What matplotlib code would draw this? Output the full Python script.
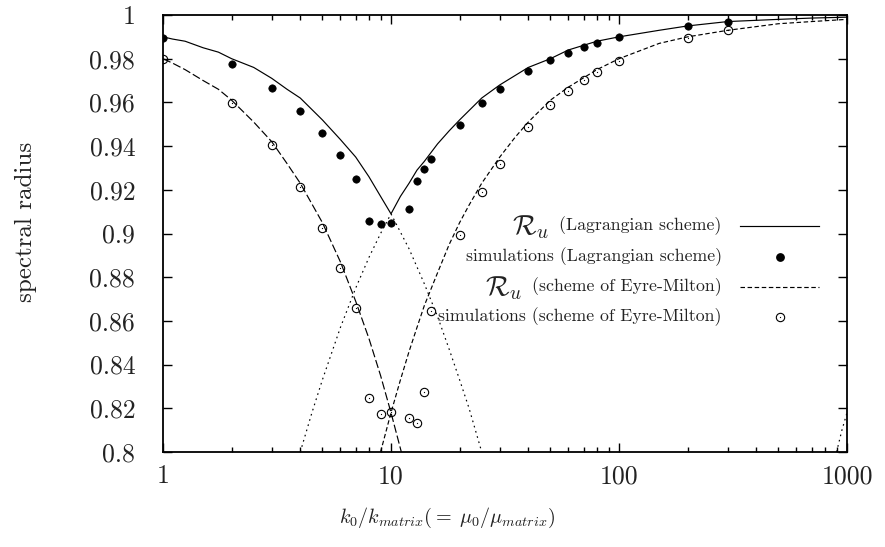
import matplotlib
matplotlib.use("Agg")
import matplotlib.pyplot as plt
from matplotlib.lines import Line2D
from matplotlib.ticker import FixedLocator, FixedFormatter, LogLocator, NullFormatter

plt.rcParams["font.family"] = "serif"
plt.rcParams["font.serif"] = ["cmr10", "DejaVu Serif"]
plt.rcParams["mathtext.fontset"] = "cm"
plt.rcParams["axes.formatter.use_mathtext"] = True

# ---- theoretical spectral radius, Lagrangian scheme (solid) ----
lag_k = [1, 1.1, 1.25, 1.5, 1.75, 2, 2.5, 3, 3.5, 4, 5, 6, 7, 8, 9, 10,
         11, 12, 13, 14, 16, 18, 20, 25, 30, 40, 50, 60, 80, 100, 150, 200, 300, 500, 700, 1000]
lag_r = [0.990, 0.989, 0.988, 0.985, 0.983, 0.980, 0.976, 0.971, 0.966, 0.962, 0.952, 0.943,
         0.935, 0.926, 0.917, 0.909,
         0.917, 0.923, 0.929, 0.933, 0.941, 0.947, 0.952, 0.962, 0.968, 0.976, 0.980, 0.984,
         0.988, 0.990, 0.993, 0.995, 0.997, 0.998, 0.9986, 0.999]

# branches of the Lagrangian bound below the envelope (dotted)
rise_k = [4, 4.5, 5, 6, 7, 8, 9, 10]
rise_r = [0.800, 0.818, 0.833, 0.857, 0.875, 0.889, 0.900, 0.909]
fall_k = [10, 12, 14, 16, 18, 20, 22, 25]
fall_r = [0.909, 0.893, 0.877, 0.862, 0.847, 0.833, 0.820, 0.800]
edge_k = [900, 950, 1000]
edge_r = [0.800, 0.810, 0.818]

# ---- theoretical spectral radius, scheme of Eyre-Milton (dashed) ----
em_left_k = [1, 1.1, 1.25, 1.5, 1.75, 2, 2.5, 3, 3.5, 4, 5, 6, 7, 8, 9, 10, 11.1]
em_left_r = [0.980, 0.978, 0.975, 0.970, 0.966, 0.961, 0.951, 0.942, 0.932, 0.923, 0.905, 0.887,
             0.869, 0.852, 0.835, 0.818, 0.800]
em_right_k = [9, 10, 11, 12, 13, 14, 16, 18, 20, 22, 25, 30, 35, 40, 50, 60, 80, 100,
              150, 200, 300, 500, 700, 1000]
em_right_r = [0.800, 0.818, 0.833, 0.846, 0.857, 0.867, 0.882, 0.895, 0.905, 0.913, 0.923, 0.935,
              0.944, 0.951, 0.961, 0.967, 0.975, 0.980, 0.987, 0.990, 0.993, 0.996, 0.997, 0.998]

# ---- simulations ----
sim_k = [1, 2, 3, 4, 5, 6, 7, 8, 9, 10, 12, 13, 14, 15, 20, 25, 30, 40, 50, 60, 70, 80, 100, 200, 300]
sim_lag = [0.9895, 0.9776, 0.9667, 0.9562, 0.9460, 0.9359, 0.9249, 0.9059, 0.9045, 0.9050,
           0.9112, 0.9239, 0.9294, 0.9340, 0.9497, 0.9596, 0.9660, 0.9744, 0.9793, 0.9828,
           0.9852, 0.9870, 0.9898, 0.9948, 0.9966]
sim_em = [0.9797, 0.9599, 0.9404, 0.9213, 0.9025, 0.8841, 0.8660, 0.8249, 0.8174, 0.8182,
          0.8154, 0.8131, 0.8273, 0.8645, 0.8993, 0.9188, 0.9318, 0.9486, 0.9587, 0.9654,
          0.9703, 0.9739, 0.9791, 0.9896, 0.9930]

y_ticks = [0.8, 0.82, 0.84, 0.86, 0.88, 0.9, 0.92, 0.94, 0.96, 0.98, 1.0]
y_tick_labels = ["0.8", "0.82", "0.84", "0.86", "0.88", "0.9", "0.92", "0.94", "0.96", "0.98", "1"]
x_ticks = [1, 10, 100, 1000]
x_tick_labels = ["1", "10", "100", "1000"]

legend_labels = ["(Lagrangian scheme)", "simulations (Lagrangian scheme)",
                 "(scheme of Eyre-Milton)", "simulations (scheme of Eyre-Milton)"]

fig = plt.figure(figsize=(8.85, 5.47), dpi=100)
ax = fig.add_axes([163 / 885, 95 / 547, 684 / 885, 437 / 547])

lw = 0.85
em_dash = (0, (3.8, 2.2))
ax.plot(lag_k, lag_r, color="black", lw=lw, solid_joinstyle="miter")
dotted = (0, (1.4, 3.2))
for kk, rr in ((rise_k, rise_r), (fall_k, fall_r), (edge_k, edge_r)):
    ax.plot(kk, rr, color="black", lw=lw, linestyle=dotted)
ax.plot(em_left_k, em_left_r, color="black", lw=lw, linestyle=(0, (7, 2.5)))
ax.plot(em_right_k, em_right_r, color="black", lw=lw, linestyle=em_dash)

ax.plot(sim_k, sim_lag, linestyle="none", marker="o", ms=5.3, mfc="black", mec="black", mew=0.5)
ax.plot(sim_k, sim_em, linestyle="none", marker="o", ms=6.0, mfc="none", mec="black", mew=0.8)
ax.plot(sim_k, sim_em, linestyle="none", marker="o", ms=0.9, mfc="black", mec="black", mew=0)

ax.set_xscale("log")
ax.set_xlim(1, 1000)
ax.set_ylim(0.8, 1.0)

ax.xaxis.set_major_locator(FixedLocator(x_ticks))
ax.xaxis.set_major_formatter(FixedFormatter(x_tick_labels))
ax.xaxis.set_minor_locator(LogLocator(base=10, subs=range(2, 10)))
ax.xaxis.set_minor_formatter(NullFormatter())
ax.yaxis.set_major_locator(FixedLocator(y_ticks))
ax.yaxis.set_major_formatter(FixedFormatter(y_tick_labels))

ax.tick_params(which="both", direction="in", top=True, right=True, colors="black",
               labelcolor="#222222", labelsize=18.5)
ax.tick_params(which="major", length=6.5, width=1.0)
ax.tick_params(which="minor", length=3.5, width=1.0)
ax.tick_params(axis="y", pad=20)
ax.tick_params(axis="x", pad=9)
for s in ax.spines.values():
    s.set_linewidth(1.3)

ax.set_ylabel("spectral radius", fontsize=18, color="#222222")
ax.yaxis.set_label_coords(-0.184, 0.526)
ax.set_xlabel(r"$k_0/k_{matrix}({=}\;\mu_0/\mu_{matrix})$", fontsize=14.5, color="#222222")
ax.xaxis.set_label_coords(0.415, -0.124)

# key, gnuplot style: right-justified text with the sample to its right
rows_y = [0.517, 0.447, 0.378, 0.310]
text_x = 0.817
small = 12.8
texts = []
for y, lab in zip(rows_y, legend_labels):
    t = ax.text(text_x, y, lab, transform=ax.transAxes, ha="right", va="center",
                fontsize=small, color="#222222")
    texts.append(t)
for i in (0, 2):
    ax.annotate(r"$\mathcal{R}_u$", xy=(0, 0.5), xycoords=texts[i], xytext=(-7, -1),
                textcoords="offset points", ha="right", va="center", fontsize=20,
                color="#222222")

ax.add_line(Line2D([0.844, 0.959], [rows_y[0]] * 2, transform=ax.transAxes, color="black", lw=lw))
ax.add_line(Line2D([0.902], [rows_y[1]], transform=ax.transAxes, linestyle="none",
                   marker="o", ms=5.3, mfc="black", mec="black"))
ax.add_line(Line2D([0.844, 0.959], [rows_y[2]] * 2, transform=ax.transAxes, color="black", lw=lw,
                   linestyle=em_dash))
ax.add_line(Line2D([0.902], [rows_y[3]], transform=ax.transAxes, linestyle="none",
                   marker="o", ms=6.0, mfc="none", mec="black", mew=0.8))
ax.add_line(Line2D([0.902], [rows_y[3]], transform=ax.transAxes, linestyle="none",
                   marker="o", ms=0.9, mfc="black", mec="black", mew=0))

fig.savefig("out.png", dpi=100)
